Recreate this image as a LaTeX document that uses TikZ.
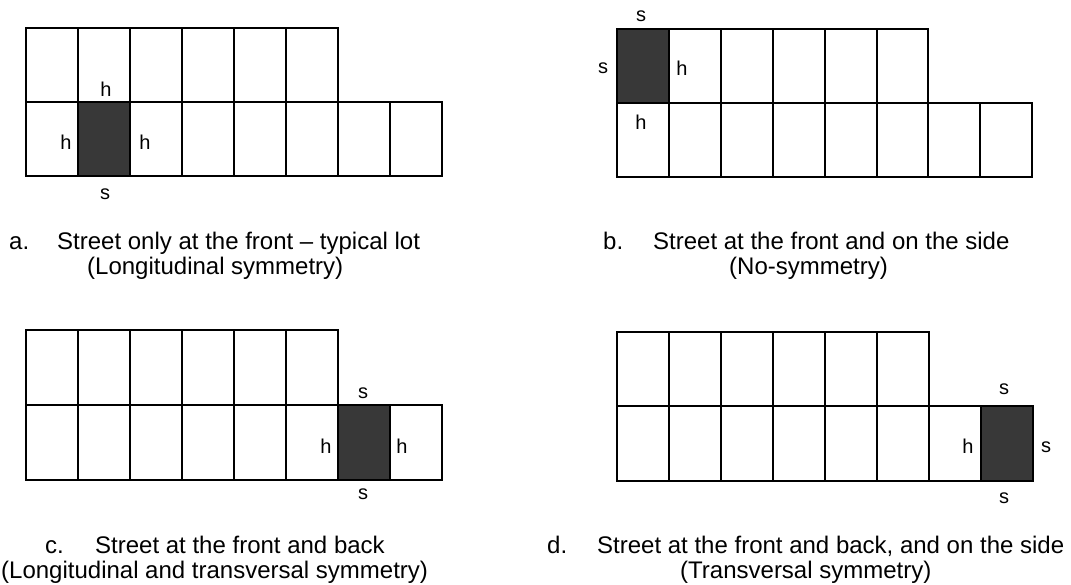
\documentclass[tikz,border=0pt]{standalone}
\usepackage{fontspec}
\setmainfont{Liberation Sans}
\newcommand\lotgrid[5]{%
  \foreach \i in {0,...,5} \draw[cell] ({#1+\i*#5},#2) rectangle ({#1+(\i+1)*#5},#3);
  \foreach \i in {0,...,7} \draw[cell] ({#1+\i*#5},#3) rectangle ({#1+(\i+1)*#5},#4);
}
\begin{document}
\begin{tikzpicture}[x=1pt,y=-1pt,
  cell/.style={draw=black,line width=2pt,fill=white},
  dark/.style={draw=black,line width=2pt,fill=black!78},
  lbl/.style={font=\fontsize{20}{20}\selectfont,inner sep=0pt},
  captxt/.style={font=\fontsize{24}{24}\selectfont,inner sep=0pt,anchor=base west}]
\useasboundingbox (0,0) rectangle (1071,585);
% panel a
\lotgrid{26}{28}{102}{176}{52}
\draw[dark] (78,102) rectangle (130,176);
\node[lbl] (ahT) at (106,89) {h};
\node[lbl] (ahL) at (66,142) {h};
\node[lbl] (ahR) at (145,142) {h};
\node[lbl] (asB) at (105,194) {s};
% panel b
\lotgrid{617}{29}{103}{177}{51.9}
\draw[dark] (617,29) rectangle (668.9,103);
\node[lbl] (bsT) at (641,16) {s};
\node[lbl] (bsL) at (603,68) {s};
\node[lbl] (bhR) at (682,68) {h};
\node[lbl] (bhB) at (641,122) {h};
% panel c
\lotgrid{26}{330}{405}{480}{52}
\draw[dark] (338,405) rectangle (390,480);
\node[lbl] (csT) at (363,393) {s};
\node[lbl] (csB) at (363,494) {s};
\node[lbl] (chL) at (326,446) {h};
\node[lbl] (chR) at (402,446) {h};
% panel d
\lotgrid{617}{332}{406}{481}{52}
\draw[dark] (981,406) rectangle (1033,481);
\node[lbl] (dsT) at (1004,389) {s};
\node[lbl] (dsB) at (1004,498) {s};
\node[lbl] (dsR) at (1046,447) {s};
\node[lbl] (dhL) at (968,446) {h};
% captions
\node[captxt] (aL) at (9,250) {a.};
\node[captxt] (a1) at (57,250) {Street only at the front \textendash{} typical lot};
\node[captxt] (a2) at (87,275) {(Longitudinal symmetry)};
\node[captxt] (bL) at (603,250) {b.};
\node[captxt] (b1) at (653,250) {Street at the front and on the side};
\node[captxt] (b2) at (729,275) {(No-symmetry)};
\node[captxt] (cL) at (45,553) {c.};
\node[captxt] (c1) at (95,553) {Street at the front and back};
\node[captxt] (c2) at (1,578) {(Longitudinal and transversal symmetry)};
\node[captxt] (dL) at (547,553) {d.};
\node[captxt] (d1) at (597,553) {Street at the front and back, and on the side};
\node[captxt] (d2) at (680,578) {(Transversal symmetry)};
\end{tikzpicture}
\end{document}
